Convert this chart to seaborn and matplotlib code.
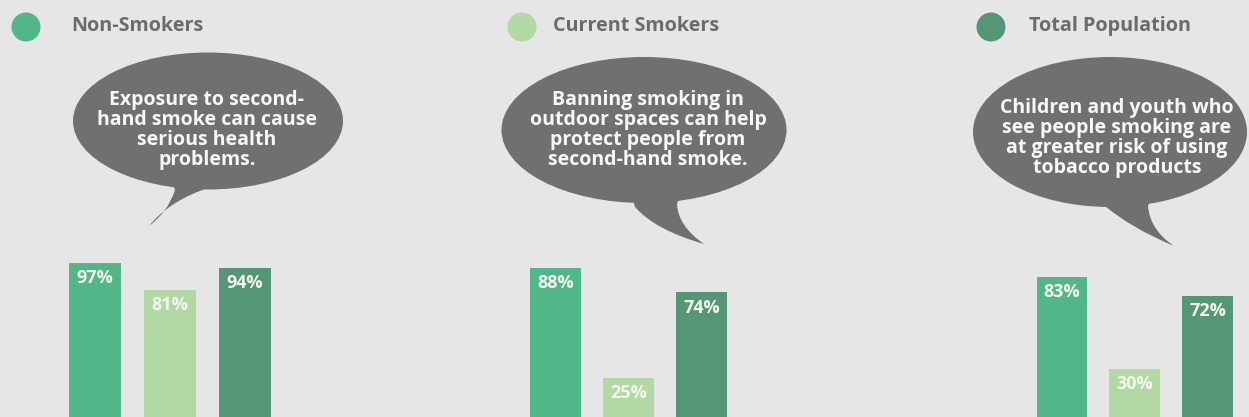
import matplotlib
matplotlib.use("Agg")
import matplotlib.pyplot as plt
from matplotlib.patches import Ellipse, Circle, PathPatch
from matplotlib.path import Path
import seaborn as sns

# ---- data -------------------------------------------------------------
groups = ["Non-Smokers", "Current Smokers", "Total Population"]
group_colors = ["#52b788", "#b2d8a3", "#559676"]

statements = [
    ["Exposure to second-", "hand smoke can cause", "serious health", "problems."],
    ["Banning smoking in", "outdoor spaces can help", "protect people from", "second-hand smoke."],
    ["Children and youth who", "see people smoking are", "at greater risk of using", "tobacco products"],
]

# agreement (%) per statement, in the order of `groups`
agree_exposure = [97, 81, 94]
agree_outdoor_ban = [88, 25, 74]
agree_youth_risk = [83, 30, 72]
panel_values = [agree_exposure, agree_outdoor_ban, agree_youth_risk]

# ---- style ------------------------------------------------------------
sns.set_theme(style="white")
plt.rcParams["font.family"] = ["Open Sans", "DejaVu Sans"]

BG = "#e6e6e6"
BUBBLE = "#707070"
LEGEND_TXT = "#6b6b6b"
W, H = 1249, 417

fig = plt.figure(figsize=(W / 100, H / 100), dpi=100, facecolor=BG)

# overlay in pixel coordinates for legend and speech bubbles
ov = fig.add_axes([0, 0, 1, 1])
ov.set_xlim(0, W)
ov.set_ylim(H, 0)
ov.axis("off")
ov.patch.set_alpha(0)

# legend row
legend_circles = [(26, 27), (522, 27), (991, 27)]
legend_text_x = [71, 553, 1029]
for (cx, cy), tx, name, col in zip(legend_circles, legend_text_x, groups, group_colors):
    ov.add_patch(Circle((cx, cy), 14.5, color=col, lw=0))
    ov.text(tx, cy - 1, name, fontsize=14.2, fontweight="bold",
            color=LEGEND_TXT, ha="left", va="center")

# speech bubbles: ellipse + curved tail
bubbles = [
    dict(center=(208, 121), size=(270, 137), text_x=207, text_y0=100,
         tail=[(172, 182), (175, 190), (168, 212), (149, 226), (170, 200),
               (211, 187), (214, 180)]),
    dict(center=(644, 130), size=(285, 146), text_x=648, text_y0=100,
         tail=[(632, 196), (635, 207), (655, 230), (704, 244), (678, 226),
               (677, 204), (680, 196)]),
    dict(center=(1110, 132), size=(274, 150), text_x=1117, text_y0=108,
         tail=[(1102, 198), (1105, 206), (1131, 228), (1174, 246), (1150, 230),
               (1148, 206), (1151, 198)]),
]
codes = [Path.MOVETO, Path.LINETO, Path.CURVE3, Path.CURVE3, Path.CURVE3,
         Path.CURVE3, Path.LINETO]
for b, lines in zip(bubbles, statements):
    ov.add_patch(Ellipse(b["center"], *b["size"], color=BUBBLE, lw=0))
    ov.add_patch(PathPatch(Path(b["tail"] + [b["tail"][0]], codes + [Path.CLOSEPOLY]),
                           color=BUBBLE, lw=0))
    for i, line in enumerate(lines):
        ov.text(b["text_x"], b["text_y0"] + 20 * i, line, fontsize=14.0,
                fontweight="bold", color="#f7f7f7", ha="center", va="center")

# ---- bar panels -------------------------------------------------------
# axes placement in figure pixels: (left, width) and the visible value range
panel_px = [(57.5, 225.0), (519.0, 219.0), (1025.6, 218.25)]
panel_ylim = [(5.75, 110.6), (2.63, 104.0), (2.36, 104.3)]
panel_top_px = 240

for (left, width), ylim, vals in zip(panel_px, panel_ylim, panel_values):
    ax = fig.add_axes([left / W, 0, width / W, (H - panel_top_px) / H])
    sns.barplot(x=groups, y=vals, hue=groups, order=groups, hue_order=groups,
                palette=group_colors, width=0.7, saturation=1, legend=False,
                ax=ax, linewidth=0)
    ax.set_xlim(-0.5, 2.5)
    ax.set_ylim(*ylim)
    ax.axis("off")
    ax.patch.set_alpha(0)
    for i, v in enumerate(vals):
        ax.annotate(f"{v}%", (i, v), xytext=(0, -11), textcoords="offset points",
                    ha="center", va="center", fontsize=13, fontweight="bold",
                    color="#f4f6f0")

fig.savefig("out.png", dpi=100, facecolor=BG)
